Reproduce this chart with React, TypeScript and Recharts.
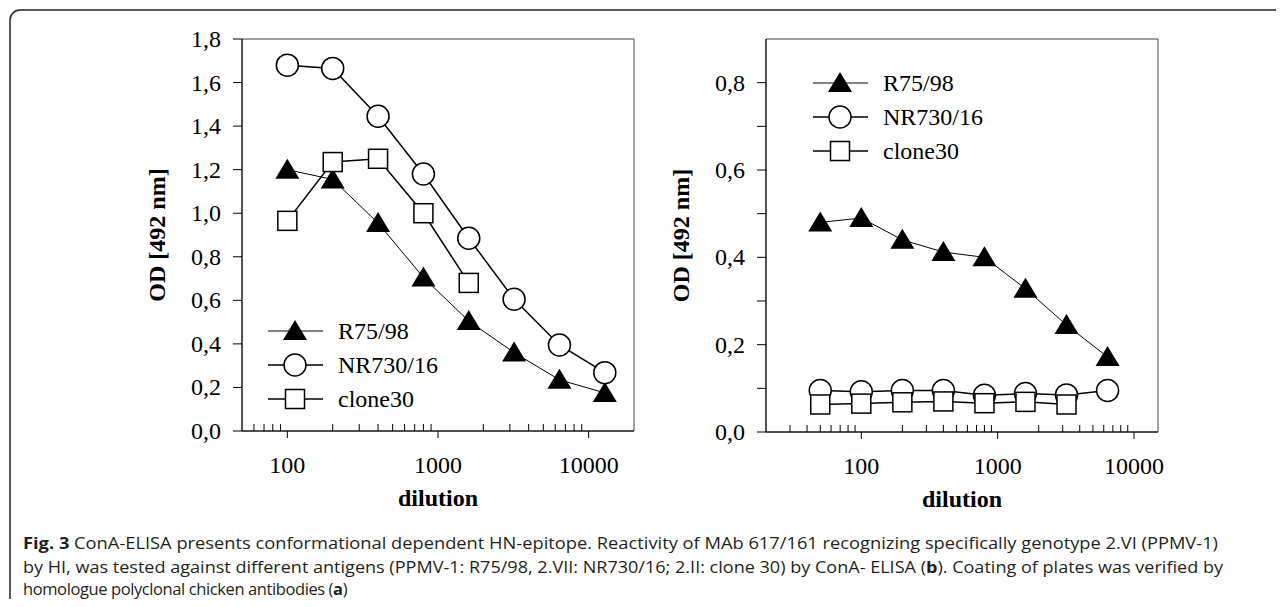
import { ScatterChart, Scatter, XAxis, YAxis, ReferenceArea, Label } from 'recharts';

// panel (a): polyclonal chicken antibodies
const dilutionA = [100, 200, 400, 800, 1600, 3200, 6400, 12800];
const r75A = [1.2, 1.155, 0.955, 0.705, 0.505, 0.36, 0.235, 0.175];
const nr730A = [1.68, 1.665, 1.445, 1.18, 0.885, 0.605, 0.395, 0.268];
const clone30A = [0.965, 1.235, 1.25, 1.0, 0.68];

// panel (b): MAb 617/161
const dilutionB = [50, 100, 200, 400, 800, 1600, 3200, 6400];
const r75B = [0.48, 0.49, 0.44, 0.412, 0.4, 0.328, 0.245, 0.172];
const nr730B = [0.095, 0.092, 0.095, 0.095, 0.084, 0.088, 0.085, 0.095];
const clone30B = [0.063, 0.065, 0.068, 0.07, 0.066, 0.069, 0.063];

const seriesNames = ['R75/98', 'NR730/16', 'clone30'];

const xMajor = [100, 1000, 10000];
const xTicksA = [60, 70, 80, 90, 100, 200, 300, 400, 500, 600, 700, 800, 900, 1000, 2000, 3000, 4000, 5000, 6000, 7000, 8000, 9000, 10000];
const xTicksB = [30, 40, 50, 60, 70, 80, 90, 100, 200, 300, 400, 500, 600, 700, 800, 900, 1000, 2000, 3000, 4000, 5000, 6000, 7000, 8000, 9000, 10000];
const yTicksA = [0, 0.2, 0.4, 0.6, 0.8, 1.0, 1.2, 1.4, 1.6, 1.8];
const yTicksB = [0, 0.1, 0.2, 0.3, 0.4, 0.5, 0.6, 0.7, 0.8];

const SERIF = '"Liberation Serif", "Times New Roman", serif';
const SANS = '"Open Sans", "Noto Sans", sans-serif';

const toPoints = (xs: number[], ys: number[]) => ys.map((y, i) => ({ x: xs[i], y }));

const Tri = ({ cx, cy }: any) => (
    <path d={`M${cx},${cy - 11} L${cx + 12},${cy + 9} L${cx - 12},${cy + 9} Z`} fill="#000" />
);
const Circ = ({ cx, cy }: any) => <circle cx={cx} cy={cy} r={11} fill="#fff" stroke="#000" strokeWidth={1.5} />;
const Sq = ({ cx, cy }: any) => (
    <rect x={cx - 9.5} y={cy - 9.5} width={19} height={19} fill="#fff" stroke="#000" strokeWidth={1.5} />
);

const XTick = (props: any) => {
    const { x, y, payload } = props;
    const major = xMajor.includes(payload.value);
    return (
        <g>
            <line x1={x} x2={x} y1={y} y2={major ? y + 7 : y - 7} stroke="#000" strokeWidth={1} />
            {major && (
                <text x={x} y={y + 42} textAnchor="middle" fontFamily={SERIF} fontSize={24} fill="#000">
                    {payload.value}
                </text>
            )}
        </g>
    );
};

const YTick = (props: any) => {
    const { x, y, payload } = props;
    const labelled = Math.round(payload.value * 10) % 2 === 0;
    return (
        <g>
            <line x1={x - 9} x2={x} y1={y} y2={y} stroke="#000" strokeWidth={1} />
            {labelled && (
                <text x={x - 21} y={y + 8} textAnchor="end" fontFamily={SERIF} fontSize={24} fill="#000">
                    {payload.value.toFixed(1).replace('.', ',')}
                </text>
            )}
        </g>
    );
};

const xTitle = ({ viewBox }: any) => (
    <text x={viewBox.x + viewBox.width / 2} y={viewBox.y + 75} textAnchor="middle" fontFamily={SERIF} fontSize={24} fontWeight="bold" fill="#000">
        dilution
    </text>
);

const yTitle = ({ viewBox }: any) => {
    const x = viewBox.x + viewBox.width - 77;
    const y = viewBox.y + viewBox.height / 2;
    return (
        <text x={x} y={y} transform={`rotate(-90, ${x}, ${y})`} textAnchor="middle" fontFamily={SERIF} fontSize={24} fontWeight="bold" fill="#000">
            OD [492 nm]
        </text>
    );
};

function LegendBox({ left, top }: { left: number; top: number }) {
    const rows = [Tri, Circ, Sq];
    return (
        <svg style={{ position: 'absolute', left, top }} width={200} height={110}>
            {rows.map((Mark, i) => {
                const cy = 16 + i * 34;
                return (
                    <g key={seriesNames[i]}>
                        <line x1={0} x2={55} y1={cy} y2={cy} stroke="#000" strokeWidth={i === 0 ? 1 : 1.5} />
                        <Mark cx={27} cy={cy} />
                        <text x={70} y={cy + 8} fontFamily={SERIF} fontSize={24} fill="#000">
                            {seriesNames[i]}
                        </text>
                    </g>
                );
            })}
        </svg>
    );
}

interface PanelProps {
    left: number;
    width: number;
    margin: { top: number; right: number; left: number; bottom: number };
    xHeight: number;
    xDomain: [number, number];
    xTicks: number[];
    yDomain: [number, number];
    yTicks: number[];
    r75: { x: number; y: number }[];
    nr730: { x: number; y: number }[];
    clone30: { x: number; y: number }[];
}

function Panel({ left, width, margin, xHeight, xDomain, xTicks, yDomain, yTicks, r75, nr730, clone30 }: PanelProps) {
    return (
        <div style={{ position: 'absolute', left, top: 0 }}>
            <ScatterChart width={width} height={520} margin={margin}>
                <ReferenceArea x1={xDomain[0]} x2={xDomain[1]} y1={yDomain[0]} y2={yDomain[1]} fill="none" stroke="#444" strokeWidth={1} />
                <XAxis
                    type="number"
                    dataKey="x"
                    scale="log"
                    domain={xDomain}
                    allowDataOverflow
                    ticks={xTicks}
                    interval={0}
                    height={xHeight}
                    tickSize={0}
                    tickMargin={0}
                    tickLine={false}
                    axisLine={{ stroke: '#000' }}
                    tick={XTick}
                >
                    <Label content={xTitle} />
                </XAxis>
                <YAxis
                    type="number"
                    dataKey="y"
                    domain={yDomain}
                    allowDataOverflow
                    ticks={yTicks}
                    interval={0}
                    width={60}
                    tickSize={0}
                    tickMargin={0}
                    tickLine={false}
                    axisLine={{ stroke: '#000' }}
                    tick={YTick}
                >
                    <Label content={yTitle} />
                </YAxis>
                <Scatter data={r75} line={{ stroke: '#000', strokeWidth: 1 }} lineType="joint" shape={Tri} isAnimationActive={false} />
                <Scatter data={nr730} line={{ stroke: '#000', strokeWidth: 1.5 }} lineType="joint" shape={Circ} isAnimationActive={false} />
                <Scatter data={clone30} line={{ stroke: '#000', strokeWidth: 1.5 }} lineType="joint" shape={Sq} isAnimationActive={false} />
            </ScatterChart>
        </div>
    );
}

export default function App() {
    return (
        <div style={{ position: 'relative', width: 1284, height: 607, margin: -8, overflow: 'hidden', background: '#fff' }}>
            <svg style={{ position: 'absolute', left: 0, top: 0 }} width={1284} height={607}>
                <rect x={10} y={10} width={1400} height={604} rx={10} ry={10} fill="none" stroke="#222" strokeWidth={1.5} />
                <g fontFamily={SANS} fontSize={16.5} fill="#231f20" style={{ whiteSpace: 'pre' }}>
                    <text x={23} y={549} textLength={1195} lengthAdjust="spacingAndGlyphs">
                        <tspan fontWeight="bold">Fig. 3</tspan>
                        {'  ConA-ELISA presents conformational dependent HN-epitope. Reactivity of MAb 617/161 recognizing specifically genotype 2.VI (PPMV-1)'}
                    </text>
                    <text x={23} y={573} textLength={1200} lengthAdjust="spacingAndGlyphs">
                        {'by HI, was tested against different antigens (PPMV-1: R75/98, 2.VII: NR730/16; 2.II: clone 30) by ConA- ELISA ('}
                        <tspan fontWeight="bold">b</tspan>
                        {'). Coating of plates was verified by'}
                    </text>
                    <text x={23} y={595} letterSpacing={-0.4}>
                        {'homologue polyclonal chicken antibodies ('}
                        <tspan fontWeight="bold">a</tspan>
                        {')'}
                    </text>
                </g>
            </svg>
            <Panel
                left={0}
                width={660}
                margin={{ top: 39, right: 26, left: 182, bottom: 0 }}
                xHeight={89}
                xDomain={[50, 20000]}
                xTicks={xTicksA}
                yDomain={[0, 1.8]}
                yTicks={yTicksA}
                r75={toPoints(dilutionA, r75A)}
                nr730={toPoints(dilutionA, nr730A)}
                clone30={toPoints(dilutionA, clone30A)}
            />
            <Panel
                left={660}
                width={624}
                margin={{ top: 39, right: 126, left: 46, bottom: 0 }}
                xHeight={88}
                xDomain={[20, 15000]}
                xTicks={xTicksB}
                yDomain={[0, 0.9]}
                yTicks={yTicksB}
                r75={toPoints(dilutionB, r75B)}
                nr730={toPoints(dilutionB, nr730B)}
                clone30={toPoints(dilutionB, clone30B)}
            />
            <LegendBox left={268} top={315} />
            <LegendBox left={813} top={67} />
        </div>
    );
}
